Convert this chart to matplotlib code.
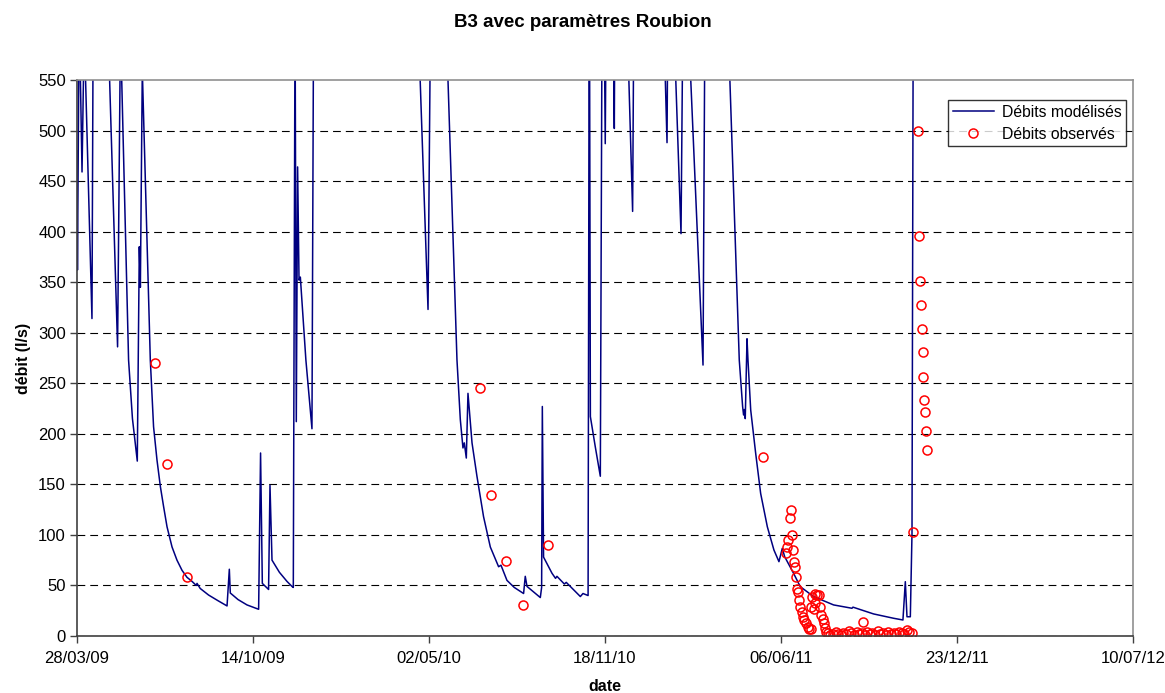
import pandas as pd
import matplotlib
matplotlib.use("Agg")
import matplotlib.pyplot as plt
import matplotlib.dates as mdates

plt.rcParams["font.family"] = ["Liberation Sans", "DejaVu Sans"]

start = pd.Timestamp("2009-03-28")
end = pd.Timestamp("2012-07-10")

# debits modelises: jours depuis le 28/03/09, debit (l/s)
model_days = [
    0, 0.5, 2.5, 5.7, 8.2, 17, 19, 30, 35, 46.1, 49.4, 58.6, 63, 68.5, 70.8, 72,
    74.2, 83.3, 87, 90.9, 94.7, 98.4, 102.3, 108, 113.6, 119.3, 125, 130.7, 135.5,
    136.4, 140, 149.5, 160, 170.5, 173.1, 174.2, 183, 193.2, 206.4, 208.6, 210.6,
    217.7, 219.3, 221.6, 230, 238.6, 244.3, 245.8, 247.8, 249.2, 250.7, 252.3,
    253.8, 260.1, 267, 269, 330, 388, 398.9, 401.8, 410, 419, 431.8, 435.6, 438.6,
    440.1, 442.4, 444.3, 448.9, 454.5, 462, 469.7, 479.1, 481.8, 488.6, 496.9,
    507.5, 509.4, 511.4, 526.5, 528, 528.8, 530.2, 539.8, 543.8, 545.4, 553.8, 556,
    572, 575, 579.5, 580.8, 582.2, 583.4, 589, 594.7, 596.8, 599.2, 600.3, 601.3,
    605, 609.5, 610.6, 611.2, 620, 625.5, 631.4, 632.8, 650, 667, 670.5, 671.3,
    675, 678.5, 686.4, 688.6, 692, 695, 711.4, 713.6, 725, 740, 752.6, 756.4,
    757.5, 758.6, 759.4, 761.4, 762.5, 765.6, 771.2, 776.9, 784.5, 792, 797.7,
    801.5, 804.2, 814.3, 821.9, 837, 859.8, 880.7, 881.8, 905.2, 928, 938.6,
    941.3, 943.2, 947, 948.9, 950.5,
]
model_q = [
    480, 362, 620, 459, 600, 314, 750, 800, 610, 286, 600, 273, 215, 173, 385, 345,
    560, 273, 207, 174, 148, 128, 108, 88, 75, 65, 58, 54, 50,
    52, 47, 40.5, 35, 29.7, 66, 42.5, 36, 30.7, 26.4, 181, 52,
    46, 149, 75, 63, 54, 49, 48, 620, 212, 464, 352,
    355, 273, 205, 650, 900, 600, 323, 620, 800, 620, 273, 214, 186,
    191, 176, 240, 191, 158, 118, 88, 68.5, 70, 55, 48,
    42, 59, 49, 38, 48, 227, 78, 62, 57, 59, 51.4, 53,
    39, 42, 40.5, 40, 700, 217, 187, 158, 650, 600, 487, 620,
    800, 600, 502, 620, 800, 600, 420, 620, 850, 600, 488, 600,
    750, 600, 398, 620, 700, 600, 268, 620, 800, 600, 273, 227,
    218.6, 224, 215, 294, 273, 223.5, 181, 141, 108, 85, 73.5,
    86.7, 78.4, 62, 48.8, 39, 30.7, 27.4, 28.5, 21.8, 17.5, 15.8,
    53.7, 19, 19, 101.6, 700,
]

# debits observes
obs_days = [
    89.0, 102.6, 125, 458.3, 470.5, 487.8, 507.2, 535.2, 779.9,
    806, 807.2, 808, 809.8, 811.7, 812.8, 813.6, 814.3, 815.9, 817.4, 818.2,
    819.3, 820.5, 822, 823.4, 825, 826.5, 828.4, 830.2, 832.2, 834.1, 834.1,
    835.2, 837.1, 838.2, 839, 840.9, 843.5, 844.7, 845.7, 847.3, 848.4, 849.5,
    851.5, 853, 856, 859, 862, 865, 868, 871, 874, 877, 880, 883, 886, 889, 892,
    892.7, 895, 898, 901, 904, 907, 910, 913, 916, 919, 922, 925, 928, 931, 934,
    937, 940, 943, 945, 948.9, 949.5, 955.7, 956.8, 957.5, 958.6, 959.8, 960.9,
    961.7, 962.5, 963.2, 964.8, 966.3,
]
obs_q = [
    269.7, 170, 58.4, 245.6, 139.5, 74.5, 30.4, 89.7, 177,
    82, 88, 95, 117, 124.3, 100, 85, 73.5, 68, 58.7, 46,
    43, 35.6, 28.4, 24, 19, 15.8, 12.5, 9.2, 7.3, 6.6, 29,
    38.3, 26.4, 42, 32.3, 40.5, 41, 28.4, 20.8, 16.5, 12.5, 7.6,
    4.3, 3, 1, 2, 4, 2, 1, 3, 2, 5, 3, 1, 4, 2, 3,
    13.8, 1, 4, 2, 3, 1, 5, 2, 3, 1, 4, 2, 3, 2, 4,
    3, 2, 6, 4, 3.4, 102.5, 500, 396, 351, 327, 304, 281,
    256, 233, 222, 203, 184,
]

model_dates = start + pd.to_timedelta(model_days, unit="D")
obs_dates = start + pd.to_timedelta(obs_days, unit="D")

fig = plt.figure(figsize=(11.65, 6.93), dpi=100)
ax = fig.add_axes([0.0661, 0.0823, 0.9064, 0.8023])

ax.plot(model_dates, model_q, color="#000080", linewidth=1.1, label="Débits modélisés")
ax.plot(obs_dates, obs_q, linestyle="none", marker="o", markersize=6.5,
        markerfacecolor="none", markeredgecolor="red", markeredgewidth=1.1,
        label="Débits observés")

ax.set_xlim(start, end)
ax.set_ylim(0, 550)
ax.set_yticks(range(0, 551, 50))
ax.set_xticks(pd.date_range(start, end, freq="200D"))
ax.xaxis.set_major_formatter(mdates.DateFormatter("%d/%m/%y"))

ax.yaxis.grid(True, color="black", linestyle=(0, (7, 4.5)), linewidth=0.8)
ax.get_ygridlines()[-1].set_visible(False)  # 550 = bord du cadre
ax.set_axisbelow(True)

for s in ["left", "bottom"]:
    ax.spines[s].set_color("#404040")
    ax.spines[s].set_linewidth(1.2)
for s in ["top", "right"]:
    ax.spines[s].set_color("#909090")
    ax.spines[s].set_linewidth(1.2)

ax.tick_params(axis="both", direction="out", length=5, width=1, color="#404040",
               labelsize=12, pad=3)
ax.tick_params(axis="x", pad=6)

ax.set_xlabel("date", fontsize=11.5, fontweight="bold", labelpad=9)
ax.set_ylabel("débit (l/s)", fontsize=11.5, fontweight="bold", labelpad=5)
fig.suptitle("B3 avec paramètres Roubion", x=0.5, y=0.98, fontsize=13.5, fontweight="bold")

leg = ax.legend(loc="upper right", bbox_to_anchor=(0.9934, 0.964), fontsize=11.3,
                frameon=True, fancybox=False, borderaxespad=0,
                handlelength=2.6, handletextpad=0.5, borderpad=0.3, labelspacing=0.45)
leg.get_frame().set_edgecolor("black")
leg.get_frame().set_linewidth(1.0)

fig.savefig("out.png", dpi=100)
